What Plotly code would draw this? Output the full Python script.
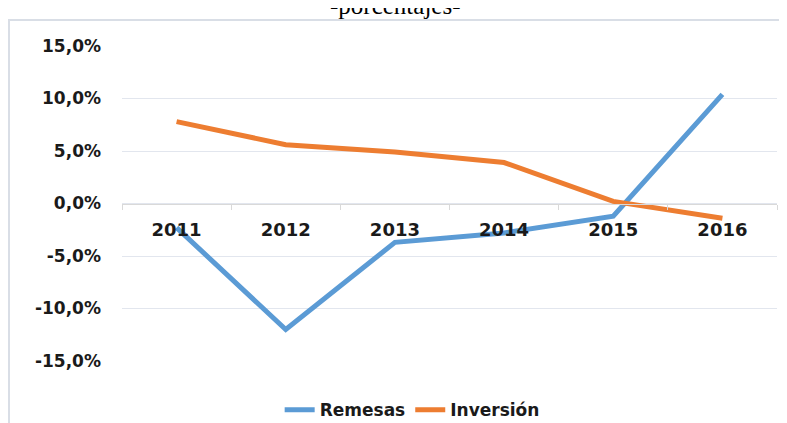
import plotly.graph_objects as go

years = ["2011", "2012", "2013", "2014", "2015", "2016"]
remesas = [-2.3, -12.0, -3.7, -2.8, -1.2, 10.4]
inversion = [7.8, 5.6, 4.9, 3.9, 0.2, -1.4]
y_ticks = [-15, -10, -5, 0, 5, 10, 15]
y_labels = [f"{v:.1f}%".replace(".", ",") for v in y_ticks]

fig = go.Figure()
fig.add_trace(go.Scatter(x=years, y=remesas, name="Remesas", mode="lines",
                         line=dict(color="#5B9BD5", width=5)))
fig.add_trace(go.Scatter(x=years, y=inversion, name="Inversión", mode="lines",
                         line=dict(color="#ED7D31", width=5)))

# the page has an 8px body margin, so the figure is a bit smaller than the window
fig.update_layout(
    width=779, height=415,
    margin=dict(l=114, r=10, t=38, b=62, autoexpand=False),
    paper_bgcolor="white", plot_bgcolor="white",
    showlegend=True,
    legend=dict(orientation="h", x=0.443, xanchor="center",
                y=-0.156, yanchor="middle",
                font=dict(family="DejaVu Sans", size=17, color="#1a1a1a", weight="bold")),
    xaxis=dict(type="category", anchor="free", position=0.5, range=[-0.5, 5.5],
               automargin=False,
               showgrid=False, showline=True, linecolor="#D9D9D9", linewidth=1,
               ticks="outside", tickson="boundaries", ticklen=5, tickcolor="#D9D9D9",
               ticklabelstandoff=10,
               tickfont=dict(family="DejaVu Sans", size=18, color="#1a1a1a", weight="bold")),
    yaxis=dict(range=[-15, 15], tickvals=y_ticks, ticktext=y_labels, automargin=False,
               showgrid=True, gridcolor="#E2E6EE", gridwidth=1, zeroline=False,
               ticklabelstandoff=20,
               tickfont=dict(family="DejaVu Sans", size=17, color="#1a1a1a", weight="bold")),
    shapes=[dict(type="rect", xref="paper", yref="paper", x0=-0.1725, x1=1.05,
                 y0=-0.3, y1=1.0825, line=dict(color="#D9DEE6", width=2),
                 layer="below")],
    annotations=[dict(text="-porcentajes-", xref="paper", yref="paper", x=0.4168,
                      y=1.13, xanchor="center", yanchor="middle", showarrow=False,
                      font=dict(family="Liberation Serif", size=25, color="black"))],
)

fig.write_html("out.html")
